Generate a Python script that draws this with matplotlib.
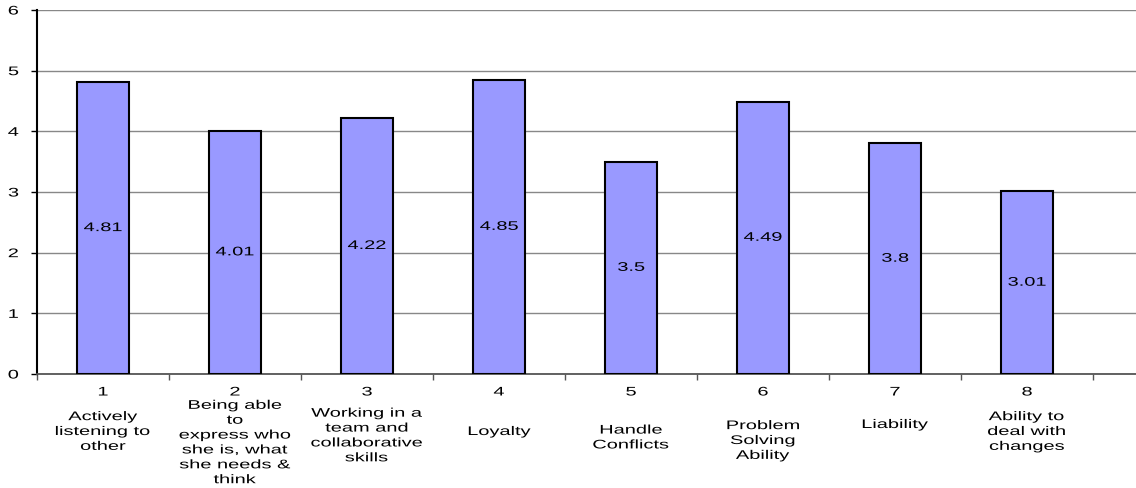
import matplotlib
matplotlib.use("Agg")
import matplotlib.pyplot as plt
import matplotlib.patheffects as pe
from matplotlib.transforms import Affine2D
from matplotlib.ticker import FixedLocator, NullFormatter

# ---------------------------------------------------------------------------
# Data
# ---------------------------------------------------------------------------
positions = [1, 2, 3, 4, 5, 6, 7, 8]
scores = [4.81, 4.01, 4.22, 4.85, 3.5, 4.49, 3.8, 3.01]
value_labels = ["4.81", "4.01", "4.22", "4.85", "3.5", "4.49", "3.8", "3.01"]
skills = [
    "Actively\nlistening to\nother",
    "Being able\nto\nexpress who\nshe is, what\nshe needs &\nthink",
    "Working in a\nteam and\ncollaborative\nskills",
    "Loyalty",
    "Handle\nConflicts",
    "Problem\nSolving\nAbility",
    "Liability",
    "Ability to\ndeal with\nchanges",
]
# vertical centre of each description, in figure pixels from the top
skill_label_y = [432, 443, 436, 432, 438, 441, 425, 432]

W, H = 1136, 488
FS = 9.0          # font size (pt)
SX = 1.6          # the source image is stretched horizontally
plt.rcParams["font.family"] = ["Liberation Sans", "DejaVu Sans"]


class HStretch(pe.AbstractPathEffect):
    """Stretch a text horizontally about its anchor point."""

    def __init__(self, text, sx):
        super().__init__()
        self.text = text
        self.sx = sx

    def draw_path(self, renderer, gc, tpath, affine, rgbFace=None):
        t = self.text
        cx = t.get_transform().transform(t.get_unitless_position())[0]
        extra = Affine2D().translate(-cx, 0).scale(self.sx, 1).translate(cx, 0)
        renderer.draw_path(gc, tpath, affine + extra, rgbFace)


def stretch(text):
    text.set_path_effects([HStretch(text, SX)])
    return text


fig = plt.figure(figsize=(W / 100, H / 100), dpi=100)
ax = fig.add_axes([37 / W, (H - 374) / H, (W - 37) / W, 364 / H])

ax.bar(positions, scores, width=0.4, color="#9999FF",
       edgecolor="black", linewidth=1.5, zorder=3)

for x, v, lbl in zip(positions, scores, value_labels):
    stretch(ax.text(x, v / 2, lbl, ha="center", va="center",
                    fontsize=FS, zorder=4))

ax.set_xlim(0.5, 0.5 + (W - 37) / 132)
ax.set_ylim(0, 6)
ax.set_yticks(range(7))
ax.yaxis.grid(True, color="#888888", linewidth=1.0, zorder=0)

# category boundaries as tick marks, numbers as minor labels
ax.xaxis.set_major_locator(FixedLocator([p + 0.5 for p in [0] + positions]))
ax.xaxis.set_major_formatter(NullFormatter())
ax.xaxis.set_minor_locator(FixedLocator(positions))
ax.set_xticklabels([str(p) for p in positions], minor=True)
ax.tick_params(axis="x", which="major", length=4, width=1, color="#555555")
ax.tick_params(axis="x", which="minor", length=0, pad=9, labelsize=FS)
ax.tick_params(axis="y", length=4, width=1, pad=9, labelsize=FS)

for side in ("top", "right"):
    ax.spines[side].set_visible(False)
ax.spines["left"].set_linewidth(1.5)
ax.spines["bottom"].set_color("#555555")
ax.spines["bottom"].set_linewidth(1.3)

for x, text, ypix in zip(positions, skills, skill_label_y):
    fx = ax.transData.transform((x, 0))[0] / W
    stretch(fig.text(fx, 1 - ypix / H, text, ha="center", va="center",
                     fontsize=FS, linespacing=1.32, multialignment="center"))

fig.canvas.draw()
for lbl in ax.get_xticklabels(minor=True) + ax.get_yticklabels():
    stretch(lbl)

fig.savefig("out.png", dpi=100)
